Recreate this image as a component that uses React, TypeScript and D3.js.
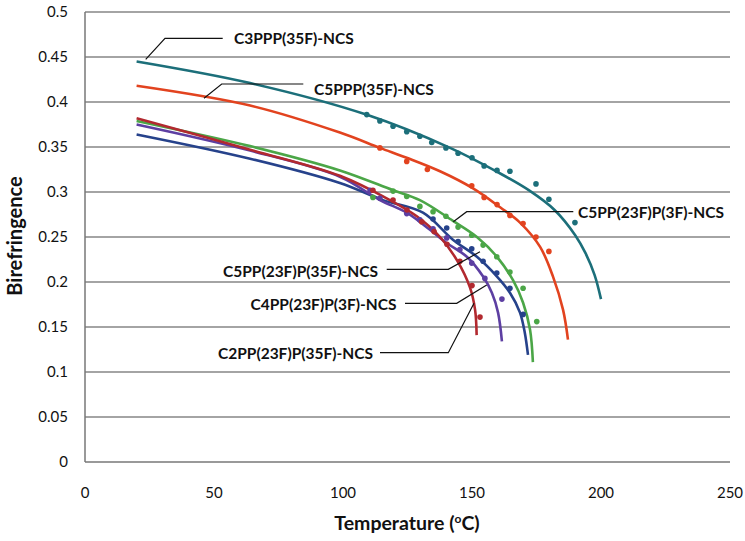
import React from "react";
import * as d3 from "d3";

// fitted curves: [temperature °C, birefringence]
const c3pppLine: [number, number][] = [[20, 0.445], [64, 0.421], [109, 0.386], [141.5, 0.349], [160, 0.322], [172, 0.302], [182, 0.28], [190, 0.252], [194, 0.232], [197.5, 0.208], [200, 0.181]];
const c5pppLine: [number, number][] = [[20, 0.418], [64, 0.396], [98.8, 0.366], [114.3, 0.349], [124.7, 0.338], [137.6, 0.323], [150.4, 0.304], [160.9, 0.283], [168.6, 0.266], [176.4, 0.239], [181.4, 0.206], [185.3, 0.169], [187.2, 0.136]];
const c5pp3fLine: [number, number][] = [[20, 0.379], [64, 0.351], [98.8, 0.324], [119.4, 0.302], [129.8, 0.291], [142.6, 0.268], [151.9, 0.25], [159.7, 0.228], [165.9, 0.202], [169.8, 0.177], [172.5, 0.147], [173.6, 0.111]];
const c5pp35fLine: [number, number][] = [[20, 0.364], [64, 0.337], [98.8, 0.31], [115.5, 0.291], [131, 0.277], [142.6, 0.247], [151.9, 0.228], [159.7, 0.206], [164.7, 0.188], [168.6, 0.166], [170.5, 0.143], [171.7, 0.119]];
const c4pp3fLine: [number, number][] = [[20, 0.375], [64, 0.346], [98.8, 0.317], [114.3, 0.291], [124.7, 0.277], [133.7, 0.258], [140.3, 0.243], [148, 0.228], [154.3, 0.206], [157.7, 0.188], [160.1, 0.166], [161.6, 0.134]];
const c2pp35fLine: [number, number][] = [[20, 0.382], [64, 0.347], [98.8, 0.318], [118.2, 0.291], [128.6, 0.273], [137.6, 0.25], [144.2, 0.224], [149.2, 0.194], [151.2, 0.169], [151.8, 0.141]];

// measured points
const c3pppDots: [number, number][] = [[109.2, 0.386], [114.3, 0.379], [119.4, 0.373], [124.7, 0.367], [129.8, 0.362], [134.4, 0.355], [139.9, 0.349], [144.6, 0.343], [150, 0.338], [154.7, 0.329], [159.7, 0.324], [164.7, 0.323], [174.8, 0.309], [179.8, 0.292], [189.9, 0.266]];
const c5pppDots: [number, number][] = [[114.3, 0.349], [124.7, 0.334], [132.7, 0.325], [149.9, 0.307], [154.7, 0.294], [159.7, 0.286], [164.7, 0.274], [169.8, 0.265], [174.8, 0.25], [179.8, 0.234]];
const c5pp3fDots: [number, number][] = [[111.6, 0.294], [119.4, 0.301], [124.7, 0.295], [129.8, 0.284], [134.9, 0.278], [139.9, 0.273], [144.6, 0.261], [149.9, 0.252], [154.3, 0.241], [159.6, 0.228], [164.7, 0.211], [169.8, 0.193], [175.1, 0.156]];
const c5pp35fDots: [number, number][] = [[134.9, 0.27], [140.2, 0.26], [144.6, 0.245], [149.9, 0.237], [154.3, 0.223], [159.6, 0.21], [164.7, 0.193], [169.8, 0.164]];
const c4pp3fDots: [number, number][] = [[110.5, 0.302], [114.3, 0.293], [124.7, 0.276], [129.8, 0.269], [134.9, 0.259], [140.2, 0.249], [145.3, 0.236], [149.9, 0.221], [155, 0.204], [161.6, 0.181]];
const c2pp35fDots: [number, number][] = [[111.6, 0.302], [119.4, 0.291], [124.8, 0.28], [130.5, 0.267], [135.3, 0.256], [140.3, 0.242], [145.3, 0.223], [150, 0.196], [153.1, 0.161]];

const seriesNames = ["C3PPP(35F)-NCS", "C5PPP(35F)-NCS", "C5PP(23F)P(3F)-NCS", "C5PP(23F)P(35F)-NCS", "C4PP(23F)P(3F)-NCS", "C2PP(23F)P(35F)-NCS"];
const seriesColors = ["#1c6f7a", "#e2431f", "#4ba647", "#26428b", "#5d3fa2", "#b2292f"];
const xTicks = [0, 50, 100, 150, 200, 250];
const yTicks = [0, 0.05, 0.1, 0.15, 0.2, 0.25, 0.3, 0.35, 0.4, 0.45, 0.5];

const lines = [c3pppLine, c5pppLine, c5pp3fLine, c5pp35fLine, c4pp3fLine, c2pp35fLine];
const dots = [c3pppDots, c5pppDots, c5pp3fDots, c5pp35fDots, c4pp3fDots, c2pp35fDots];

// label placement (pixels): leader polyline + text anchor
const labels = [
  { leader: [[145.7, 59.3], [165, 38.3], [222.7, 38.3]], x: 234, y: 39, anchor: "start" },
  { leader: [[204, 98.3], [221.7, 84], [303.3, 84]], x: 314, y: 90, anchor: "start" },
  { leader: [[453.3, 221.7], [466.7, 211.7], [573.3, 211.7]], x: 578, y: 212.5, anchor: "start" },
  { leader: [[386.7, 269.3], [448.3, 269.3], [480, 251.7]], x: 378, y: 271.5, anchor: "end" },
  { leader: [[405, 303.3], [456.7, 303.3], [486.7, 285]], x: 396.5, y: 305, anchor: "end" },
  { leader: [[380, 352.7], [448.3, 352.7], [474, 303.3]], x: 373, y: 354, anchor: "end" },
];

const width = 745;
const height = 541;
const margin = { top: 12, right: 15, bottom: 79, left: 85 };

const App = () => {
  const innerWidth = width - margin.left - margin.right;
  const innerHeight = height - margin.top - margin.bottom;

  const xScale = d3.scaleLinear().domain([0, 250]).range([0, innerWidth]);
  const yScale = d3.scaleLinear().domain([0, 0.5]).range([innerHeight, 0]);

  const lineGen = d3
    .line<[number, number]>()
    .x(d => xScale(d[0]))
    .y(d => yScale(d[1]))
    .curve(d3.curveCatmullRom.alpha(0.5));

  const font = "Lato, 'Open Sans', sans-serif";

  return (
    <svg width={width} height={height} style={{ position: "absolute", left: 0, top: 0, background: "#fff" }} fontFamily={font}>
      <g transform={`translate(${margin.left},${margin.top})`}>
        {/* grid */}
        {yTicks.map((t, i) => (
          <g key={i} transform={`translate(0,${yScale(t)})`}>
            {t > 0 && <line x2={innerWidth} stroke="#868686" strokeWidth={1.3} />}
            <text x={-17} dy="0.35em" textAnchor="end" fontSize={15} fill="#111">{t}</text>
          </g>
        ))}
        {xTicks.map((t, i) => (
          <text key={i} x={xScale(t)} y={innerHeight + 36} textAnchor="middle" fontSize={15} fill="#111">{t}</text>
        ))}
        {/* axes */}
        <line x1={0} x2={0} y1={0} y2={innerHeight} stroke="#777" strokeWidth={1.5} />
        <line x1={0} x2={innerWidth} y1={innerHeight} y2={innerHeight} stroke="#777" strokeWidth={1.5} />

        {/* curves */}
        {lines.map((l, i) => (
          <path key={i} d={lineGen(l) || ""} fill="none" stroke={seriesColors[i]} strokeWidth={2.6} />
        ))}
        {dots.map((ds, i) =>
          ds.map((d, j) => (
            <circle key={`${i}-${j}`} cx={xScale(d[0])} cy={yScale(d[1])} r={2.8} fill={seriesColors[i]} />
          ))
        )}
      </g>

      {/* labels */}
      {labels.map((lb, i) => (
        <g key={i}>
          <polyline points={lb.leader.map(p => p.join(",")).join(" ")} fill="none" stroke="#111" strokeWidth={1.2} />
          <text x={lb.x} y={lb.y} dy="0.35em" textAnchor={lb.anchor} fontSize={15.5} fontWeight="bold" fill="#111">
            {seriesNames[i]}
          </text>
        </g>
      ))}

      {/* axis titles */}
      <text transform={`translate(22,236) rotate(-90)`} textAnchor="middle" fontSize={20} fontWeight="bold" fill="#111">
        Birefringence
      </text>
      <text x={407} y={530} textAnchor="middle" fontSize={19.5} fontWeight="bold" fill="#111">
        Temperature (<tspan fontSize={12} dy={-7}>o</tspan><tspan dy={7}>C)</tspan>
      </text>
    </svg>
  );
};

export default App;
